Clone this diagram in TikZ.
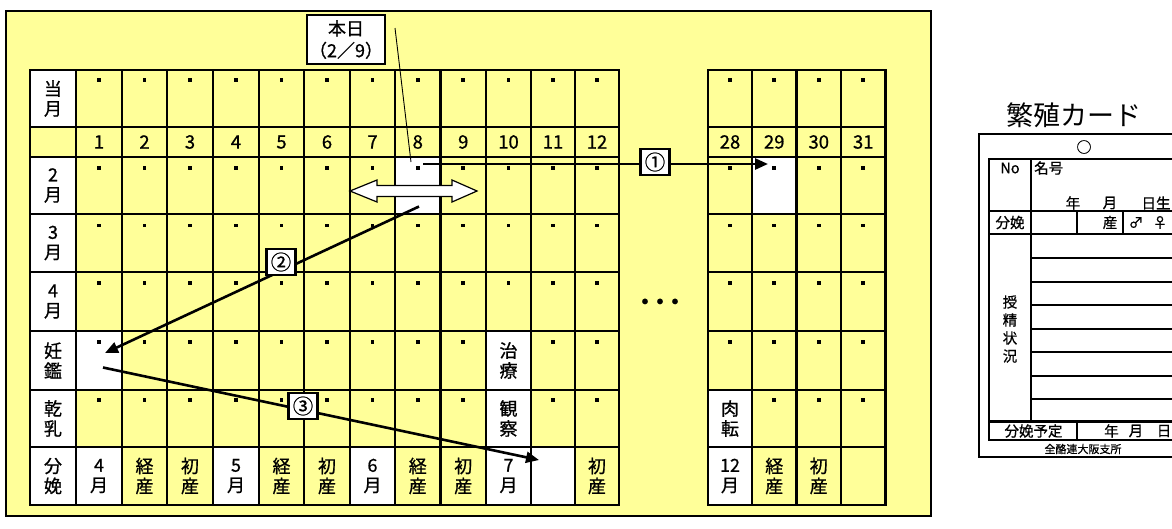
\documentclass[tikz,border=0pt]{standalone}
\usepackage{fontspec}
\setmainfont{Noto Sans CJK JP}[FakeBold=0.8]
\newfontfamily\thinfont{Noto Sans CJK JP}
\usetikzlibrary{arrows.meta}
\definecolor{cellyellow}{HTML}{FFFF99}
\tikzset{
  panel/.style={draw, fill=cellyellow, line width=2.2pt, minimum width=925pt, minimum height=505pt, inner sep=0pt},
  gridline/.style={line width=2.4pt, line cap=rect},
  celltext/.style={font=\fontsize{18}{20}\selectfont, align=center, inner sep=0pt},
  numtext/.style={font=\fontsize{18.5}{20}\selectfont, inner sep=0pt},
  flowarrow/.style={line width=2.6pt, -{Triangle[length=13pt,width=11pt]}},
  steplabel/.style={draw, fill=white, line width=2.2pt, minimum width=29pt, minimum height=26pt, inner sep=0pt, font=\fontsize{20.5}{20.5}\selectfont},
  todaybox/.style={draw, fill=white, line width=2.2pt, minimum width=78pt, minimum height=49pt, inner sep=0pt, align=center, font=\fontsize{18}{22}\selectfont},
  cardframe/.style={line width=2.2pt, line cap=rect},
  cardrule/.style={line width=1.8pt},
  cardtext/.style={font=\fontsize{14.5}{18}\selectfont, inner sep=0pt, align=center},
}
\begin{document}
\begin{tikzpicture}[x=1pt,y=-1pt]
\useasboundingbox (0,0) rectangle (1172,528);
\clip (0,0) rectangle (1172,528);
% background panel
\node[panel] (panel) at (468.5,263.5) {};
% white cells
\foreach \xa/\ya/\xb/\yb in {30/70/76/127, 30/157/76/505, 395/157/440.5/214, 752/157/796.5/214,
  76/331/122/390, 486/331/531/447, 76/447/122/505, 213/447/259/505, 350/447/395/505,
  486/447/575/505, 708/390/752/505}
  \fill[white] (\xa,\ya) rectangle (\xb,\yb);
% grid lines
\foreach \x in {30,76,122,167,213,259,304,350,395,440.5,486,531,575,619}
  \draw[gridline] (\x,70) -- (\x,505);
\foreach \y in {70,127,157,214,272,331,390,447,505}
  \draw[gridline] (30,\y) -- (619,\y);
\foreach \x in {708,752,796.5,841,885.5}
  \draw[gridline] (\x,70) -- (\x,505);
\foreach \y in {70,127,157,214,272,331,390,447,505}
  \draw[gridline] (708,\y) -- (885.5,\y);
% dots
\foreach \y in {80,168,225.5,283}
  \foreach \x in {99,144.5,190,236,281.5,327,372.5,417.75,463.25,508.5,553,597,730,774.25,818.75,863.25}
    \fill (\x-1.8,\y-1.8) rectangle (\x+1.8,\y+1.8);
\foreach \x in {99,144.5,190,236,281.5,327,372.5,417.75,463.25,553,597,730,774.25,818.75,863.25}
  \fill (\x-1.8,342-1.8) rectangle (\x+1.8,342+1.8);
\foreach \x in {99,144.5,190,236,281.5,327,372.5,417.75,463.25,553,597,774.25,818.75,863.25}
  \fill (\x-1.8,400-1.8) rectangle (\x+1.8,400+1.8);
% row labels
\node[celltext] (lab1) at (53,98.5) {当\\月};
\node[celltext] (lab2) at (53,185.5) {2\\月};
\node[celltext] (lab3) at (53,243) {3\\月};
\node[celltext] (lab4) at (53,301.5) {4\\月};
\node[celltext] (lab5) at (53,360.5) {妊\\鑑};
\node[celltext] (lab6) at (53,418.5) {乾\\乳};
\node[celltext] (lab7) at (53,476) {分\\娩};
% day numbers
\foreach \n/\x in {1/99,2/144.5,3/190,4/236,5/281.5,6/327,7/372.5,8/417.75,9/463.25,10/508.5,11/553,12/597,28/730,29/774.25,30/818.75,31/863.25}
  \node[numtext] (num\n) at (\x,142) {\n};
% special cells
\node[celltext] (chiryo) at (508.5,360.5) {治\\療};
\node[celltext] (kansatsu) at (508.5,418.5) {観\\察};
\node[celltext] (nikuten) at (730,418.5) {肉\\転};
% birth row
\foreach \t/\x [count=\i] in {4\\月/99, 経\\産/144.5, 初\\産/190, 5\\月/236, 経\\産/281.5, 初\\産/327, 6\\月/372.5, 経\\産/417.75, 初\\産/463.25, 7\\月/508.5, 初\\産/597, 12\\月/730, 経\\産/774.25, 初\\産/818.75}
  \node[celltext] (birth\i) at (\x,476) {\t};
% ellipsis
\node[font=\fontsize{26}{26}\selectfont, inner sep=0pt] (ellipsis) at (660,305) {・\hspace{-11pt}・\hspace{-11pt}・};
% double arrow
\draw[line width=1.2pt, fill=white] (350,191) -- (377,180) -- (377,185.5) -- (452,185.5) -- (452,180)
  -- (477,191) -- (452,202) -- (452,196.5) -- (377,196.5) -- (377,202) -- cycle;
% arrows
\coordinate (a1s) at (423,164);
\coordinate (a1e) at (768,164);
\coordinate (a2s) at (419,206.5);
\coordinate (a2e) at (105,353);
\coordinate (a3s) at (103,367.5);
\coordinate (a3e) at (539,460);
\draw[flowarrow] (a1s) -- (a1e);
\draw[flowarrow] (a2s) -- (a2e);
\draw[flowarrow] (a3s) -- (a3e);
\node[steplabel] (step1) at (655,162) {①};
\node[steplabel] (step2) at (281,262) {②};
\node[steplabel] (step3) at (303,406) {③};
% today
\node[todaybox] (today) at (346,39.5) {本日\\（2／9）};
\coordinate (tp1) at (395,28);
\coordinate (tp2) at (411,162);
\draw[line width=0.9pt] (tp1) -- (tp2);
% breeding card
\node[font=\thinfont\fontsize{27}{27}\selectfont, inner sep=0pt] (cardtitle) at (1074,115) {繁殖カード};
\draw[cardframe] (979,134) rectangle (1195,457);
\draw[cardframe] (989,159) rectangle (1195,440);
\draw[cardframe] (1031,159) -- (1031,421.5);
\draw[cardframe] (989,211) -- (1195,211);
\draw[cardframe] (989,234) -- (1195,234);
\foreach \y in {258,282,305,329,352,376,399}
  \draw[cardrule] (1031,\y) -- (1195,\y);
\draw[cardframe] (989,421.5) -- (1195,421.5);
\draw[cardframe] (1077,211) -- (1077,234);
\draw[cardframe] (1123,211) -- (1123,234);
\draw[cardframe] (1077,421.5) -- (1077,440);
\node[font=\fontsize{15}{15}\selectfont, inner sep=0pt] (hole) at (1084,147) {○};
\node[cardtext] (cno) at (1010,168) {No};
\node[cardtext, anchor=west] (cname) at (1034,168) {名号};
\node[cardtext] (cyear) at (1073,203) {年};
\node[cardtext] (cmonth) at (1110,203) {月};
\node[cardtext] (cday) at (1156,203) {日生};
\node[cardtext] (cbirth) at (1010,222.5) {分娩};
\node[cardtext] (cparity) at (1110,222.5) {産};
\node[cardtext] (cmale) at (1136,222.5) {♂};
\node[cardtext] (cfemale) at (1160,222.5) {♀};
\node[cardtext] (cinsem) at (1010,329) {授\\精\\状\\況};
\node[cardtext] (cdue) at (1033.5,431) {分娩予定};
\node[cardtext] (cdy) at (1111.5,431) {年};
\node[cardtext] (cdm) at (1136,431) {月};
\node[cardtext] (cdd) at (1164,431) {日};
\node[font=\fontsize{11}{11}\selectfont, inner sep=0pt] (cfoot) at (1083,449) {全酪連大阪支所};
\end{tikzpicture}
\end{document}
